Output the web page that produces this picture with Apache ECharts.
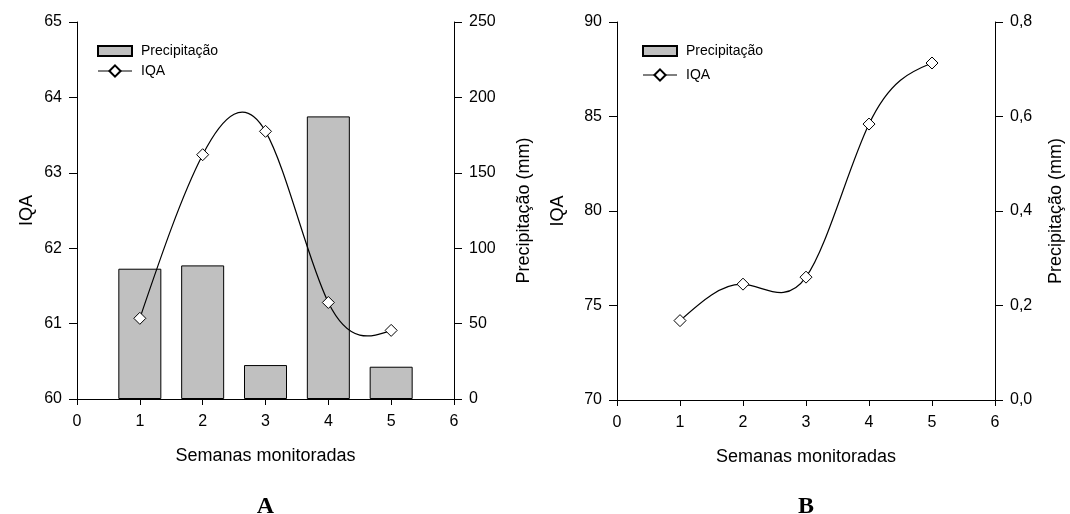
<!DOCTYPE html>
<html>
<head>
<meta charset="utf-8">
<script src="https://cdn.jsdelivr.net/npm/echarts@6/dist/echarts.min.js"></script>
<style>
html,body{margin:0;padding:0;background:#fff;}
#chart{width:1070px;height:514px;}
</style>
</head>
<body>
<div id="chart"></div>
<script>
const weeks = [1, 2, 3, 4, 5];
const iqaA = [61.07, 63.24, 63.55, 61.28, 60.91];
const precipA = [86.4, 88.6, 22.5, 187.4, 21.4];
const iqaB = [74.2, 76.13, 76.5, 84.6, 87.83];
const precipB = [0, 0, 0, 0, 0];

const FONT = 'Liberation Sans, Arial, sans-serif';
const SERIF = 'Liberation Serif, Times New Roman, serif';
const pair = (xs, ys) => xs.map((x, i) => [x, ys[i]]);

// natural cubic spline slopes at the data points (curve drawing only)
function splineSlopes(xs, ys) {
  const n = xs.length, h = [], M = new Array(n).fill(0);
  for (let i = 0; i < n - 1; i++) h.push(xs[i + 1] - xs[i]);
  const a = [], b = [], c = [], d = [];
  for (let i = 1; i < n - 1; i++) {
    a.push(h[i - 1]); b.push(2 * (h[i - 1] + h[i])); c.push(h[i]);
    d.push(6 * ((ys[i + 1] - ys[i]) / h[i] - (ys[i] - ys[i - 1]) / h[i - 1]));
  }
  const m = b.length;
  for (let i = 1; i < m; i++) {
    const w = a[i] / b[i - 1];
    b[i] -= w * c[i - 1]; d[i] -= w * d[i - 1];
  }
  const sol = new Array(m);
  for (let i = m - 1; i >= 0; i--) sol[i] = (d[i] - (i < m - 1 ? c[i] * sol[i + 1] : 0)) / b[i];
  for (let i = 0; i < m; i++) M[i + 1] = sol[i];
  const s = [];
  for (let i = 0; i < n - 1; i++) s.push((ys[i + 1] - ys[i]) / h[i] - h[i] * (2 * M[i] + M[i + 1]) / 6);
  s.push((ys[n - 1] - ys[n - 2]) / h[n - 2] + h[n - 2] * (M[n - 2] + 2 * M[n - 1]) / 6);
  return s;
}

function curveSeries(xs, ys, xi, yi) {
  const slopes = splineSlopes(xs, ys);
  return {
    name: 'curve', type: 'custom', xAxisIndex: xi, yAxisIndex: yi, z: 4,
    data: pair(xs, ys), silent: true,
    renderItem: function (params, api) {
      const i = params.dataIndex;
      if (i >= xs.length - 1) return null;
      const hh = xs[i + 1] - xs[i];
      const p0 = api.coord([xs[i], ys[i]]);
      const p1 = api.coord([xs[i] + hh / 3, ys[i] + slopes[i] * hh / 3]);
      const p2 = api.coord([xs[i + 1] - hh / 3, ys[i + 1] - slopes[i + 1] * hh / 3]);
      const p3 = api.coord([xs[i + 1], ys[i + 1]]);
      return {
        type: 'bezierCurve',
        shape: {x1: p0[0], y1: p0[1], cpx1: p1[0], cpy1: p1[1], cpx2: p2[0], cpy2: p2[1], x2: p3[0], y2: p3[1]},
        style: {stroke: '#000', lineWidth: 1.2, fill: null}
      };
    }
  };
}

function xAxisCfg(gi) {
  return {
    type: 'value', gridIndex: gi, min: 0, max: 6, interval: 1,
    name: 'Semanas monitoradas', nameLocation: 'middle', nameGap: 48,
    nameTextStyle: {fontFamily: FONT, fontSize: 18, color: '#000'},
    axisLine: {show: true, onZero: false, lineStyle: {color: '#000', width: 1}},
    axisTick: {show: true, inside: false, length: 6, lineStyle: {color: '#000'}},
    axisLabel: {fontFamily: FONT, fontSize: 16, color: '#000', margin: 15},
    splitLine: {show: false}
  };
}
function yAxisCfg(gi, pos, min, max, interval, name, gap, fmt) {
  return {
    type: 'value', gridIndex: gi, position: pos, min, max, interval,
    name, nameLocation: 'middle', nameGap: gap, nameRotate: 90,
    nameTextStyle: {fontFamily: FONT, fontSize: 18, color: '#000'},
    axisLine: {show: true, lineStyle: {color: '#000', width: 1}},
    axisTick: {show: true, inside: false, length: 8, lineStyle: {color: '#000'}},
    axisLabel: {fontFamily: FONT, fontSize: 16, color: '#000', margin: 15, formatter: fmt},
    splitLine: {show: false}
  };
}
const comma = v => v.toFixed(1).replace('.', ',');

const lineSeries = (data, xi, yi) => ({
  name: 'IQA', type: 'line', xAxisIndex: xi, yAxisIndex: yi, data,
  symbol: 'diamond', symbolSize: 12, z: 5,
  lineStyle: {color: '#000', width: 1.2, opacity: 0},
  itemStyle: {color: '#fff', borderColor: '#000', borderWidth: 1}
});
const legendCfg = (left, gap) => ({
  left, top: 44, padding: 0, orient: 'vertical', itemWidth: 34, itemHeight: 14, itemGap: gap,
  data: [
    {name: 'Precipitação', icon: 'path://M0,0L34,0L34,10L0,10Z'},
    {name: 'IQA'}
  ],
  lineStyle: {color: '#000', width: 1.2, opacity: 1},
  textStyle: {fontFamily: FONT, fontSize: 14, color: '#000', padding: [0, 0, 0, 4]}
});

const option = {
  animation: false,
  backgroundColor: '#fff',
  textStyle: {fontFamily: FONT},
  title: [
    {text: 'A', left: 265.5, top: 495, textAlign: 'center', padding: 0,
     textStyle: {fontFamily: SERIF, fontWeight: 'bold', fontSize: 24, color: '#000'}},
    {text: 'B', left: 806, top: 495, textAlign: 'center', padding: 0,
     textStyle: {fontFamily: SERIF, fontWeight: 'bold', fontSize: 24, color: '#000'}}
  ],
  legend: [legendCfg(97, 6), legendCfg(642, 10)],
  grid: [
    {left: 77, top: 22, width: 377, height: 377},
    {left: 617, top: 22, width: 378, height: 378}
  ],
  xAxis: [xAxisCfg(0), xAxisCfg(1)],
  yAxis: [
    yAxisCfg(0, 'left', 60, 65, 1, 'IQA', 41),
    yAxisCfg(0, 'right', 0, 250, 50, 'Precipitação (mm)', 61),
    yAxisCfg(1, 'left', 70, 90, 5, 'IQA', 50),
    yAxisCfg(1, 'right', 0, 0.8, 0.2, 'Precipitação (mm)', 52, comma)
  ],
  series: [
    {name: 'Precipitação', type: 'bar', xAxisIndex: 0, yAxisIndex: 1,
     data: pair(weeks, precipA), barWidth: 43,
     itemStyle: {color: '#c0c0c0', borderColor: '#000', borderWidth: 1}, z: 2},
    curveSeries(weeks, iqaA, 0, 0),
    lineSeries(pair(weeks, iqaA), 0, 0),
    {name: 'Precipitação', type: 'bar', xAxisIndex: 1, yAxisIndex: 3,
     data: pair(weeks, precipB), barWidth: 43,
     itemStyle: {color: '#c0c0c0', borderColor: '#000', borderWidth: 0}, z: 2},
    curveSeries(weeks, iqaB, 1, 2),
    lineSeries(pair(weeks, iqaB), 1, 2)
  ]
};

const chart = echarts.init(document.getElementById('chart'), null, {renderer: 'canvas'});
chart.setOption(option);
</script>
</body>
</html>
